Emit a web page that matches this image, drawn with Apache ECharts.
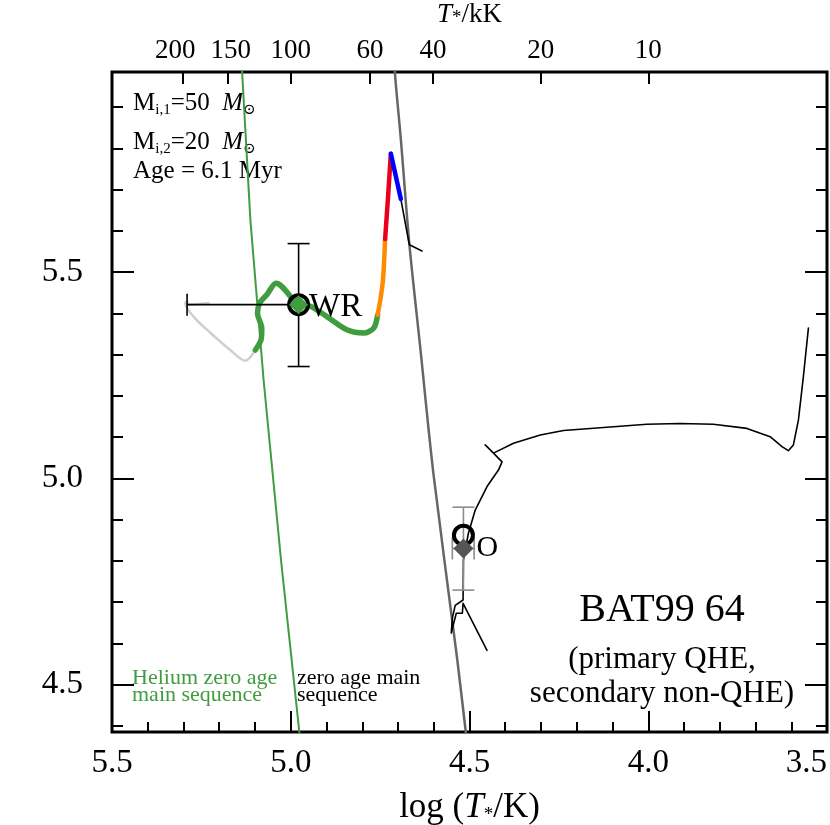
<!DOCTYPE html>
<html>
<head>
<meta charset="utf-8">
<script src="https://cdn.jsdelivr.net/npm/echarts@6/dist/echarts.min.js"></script>
<style>
  html, body { margin: 0; padding: 0; background: #fff; }
  #main { width: 830px; height: 825px; }
</style>
</head>
<body>
<div id="main"></div>
<script>
// ---- data (log T [K], log L [Lsun]) ----
var xTicks = [3.5, 4.0, 4.5, 5.0, 5.5];
var yMajorTicks = [4.5, 5.0, 5.5];
var yMinorTicks = [4.4, 4.5, 4.6, 4.7, 4.8, 4.9, 5.0, 5.1, 5.2, 5.3, 5.4, 5.5, 5.6, 5.7, 5.8, 5.9];
var topTicksKK = [200, 150, 100, 60, 40, 20, 10];

// helium zero age main sequence
var heZams = [[5.140, 6.05], [5.136, 5.985], [5.113, 5.627], [5.076, 5.239], [5.027, 4.80], [4.976, 4.385], [4.972, 4.35]];
// hydrogen zero age main sequence
var zams = [[4.712, 6.05], [4.709, 5.986], [4.692, 5.821], [4.668, 5.566], [4.638, 5.319], [4.601, 5.012], [4.534, 4.559], [4.510, 4.382], [4.505, 4.35]];

// primary track, split by phase colour
var primMS = [[4.633, 5.551], [4.668, 5.566], [4.670, 5.574], [4.692, 5.677]];
var primBlue = [[4.692, 5.677], [4.720, 5.787]];
var primRed = [[4.720, 5.787], [4.728, 5.680], [4.736, 5.580]];
var primOrange = [[4.736, 5.580], [4.742, 5.481], [4.749, 5.435], [4.757, 5.396]];
var primGreen = [[4.757, 5.396], [4.768, 5.364], [4.796, 5.352], [4.843, 5.360], [4.899, 5.392], [4.945, 5.417],
  [4.978, 5.421], [5.041, 5.473], [5.067, 5.445], [5.087, 5.425], [5.093, 5.400], [5.081, 5.364], [5.083, 5.336], [5.099, 5.311]];
var primGrey = [[5.099, 5.311], [5.127, 5.285], [5.169, 5.311], [5.225, 5.353], [5.272, 5.392], [5.295, 5.425],
  [5.290, 5.429], [5.287, 5.421], [5.230, 5.425]];

// secondary track
var secTrack = [[4.451, 4.583], [4.518, 4.697], [4.520, 4.673], [4.537, 4.673], [4.551, 4.625], [4.548, 4.661],
  [4.540, 4.692], [4.518, 4.705], [4.517, 4.802], [4.503, 4.867], [4.484, 4.923], [4.451, 4.980], [4.419, 5.020],
  [4.409, 5.040], [4.433, 5.061], [4.456, 5.081], [4.433, 5.061], [4.377, 5.085], [4.302, 5.105], [4.237, 5.116],
  [4.097, 5.125], [4.004, 5.131], [3.911, 5.133], [3.818, 5.131], [3.724, 5.121], [3.659, 5.101], [3.626, 5.077],
  [3.608, 5.067], [3.594, 5.081], [3.580, 5.141], [3.566, 5.247], [3.552, 5.364]];

// observed positions and model positions
var wrObs = [4.978, 5.421];
var wrModel = [4.978, 5.421];
var oObs = [4.517, 4.862];
var oModel = [4.517, 4.830];
// error bars: x, y, xLow, xHigh, yLow, yHigh
var errWR = [4.978, 5.421, 5.290, 4.978, 5.271, 5.569];
var errO = [4.517, 4.830, 4.548, 4.487, 4.729, 4.930];

var font = '"Liberation Serif", "DejaVu Serif", serif';
var green = '#3f9d3f';

var chart = echarts.init(document.getElementById('main'));

function track(data, color, width, z, smooth) {
  return {
    type: 'line', data: data, symbol: 'none', showSymbol: false, silent: true, smooth: smooth || false,
    lineStyle: { color: color, width: width, cap: 'round', join: 'round' }, z: z
  };
}

function errBars(color, width) {
  return function (params, api) {
    var x = api.value(0), y = api.value(1);
    var c = api.coord([x, y]);
    var l = api.coord([api.value(2), y]);
    var r = api.coord([api.value(3), y]);
    var lo = api.coord([x, api.value(4)]);
    var hi = api.coord([x, api.value(5)]);
    var cap = 11;
    var st = { stroke: color, lineWidth: width };
    var kids = [
      { type: 'line', shape: { x1: l[0], y1: c[1], x2: r[0], y2: c[1] }, style: st },
      { type: 'line', shape: { x1: c[0], y1: lo[1], x2: c[0], y2: hi[1] }, style: st },
      { type: 'line', shape: { x1: c[0] - cap, y1: lo[1], x2: c[0] + cap, y2: lo[1] }, style: st },
      { type: 'line', shape: { x1: c[0] - cap, y1: hi[1], x2: c[0] + cap, y2: hi[1] }, style: st }
    ];
    if (Math.abs(l[0] - c[0]) > 1) kids.push({ type: 'line', shape: { x1: l[0], y1: c[1] - cap, x2: l[0], y2: c[1] + cap }, style: st });
    if (Math.abs(r[0] - c[0]) > 1) kids.push({ type: 'line', shape: { x1: r[0], y1: c[1] - cap, x2: r[0], y2: c[1] + cap }, style: st });
    return { type: 'group', children: kids };
  };
}

var sub = { fontSize: 15, lineHeight: 15, verticalAlign: 'bottom', fontFamily: font };
var richInfo = { s: sub, m: { fontSize: 25, fontStyle: 'italic', fontFamily: font } };
var richAxis = {
  i: { fontStyle: 'italic', fontFamily: font },
  s: { fontSize: 19, lineHeight: 19, verticalAlign: 'bottom', fontFamily: font }
};

function infoText(text, y) {
  return {
    type: 'text', x: 133, y: y, silent: true,
    style: { text: text, fontSize: 25, lineHeight: 30, fontFamily: font, fill: '#000', align: 'left', verticalAlign: 'middle', rich: richInfo }
  };
}
function plainText(text, x, y, size, align, color, lh) {
  return {
    type: 'text', x: x, y: y, silent: true,
    style: { text: text, fontSize: size, lineHeight: lh || size, fontFamily: font, fill: color, align: align, verticalAlign: 'middle' }
  };
}

var tickLine = { color: '#000', width: 2 };
var yMinorAxis = function (pos) {
  return {
    type: 'value', position: pos, min: 4.385, max: 5.985,
    axisLine: { show: false }, splitLine: { show: false },
    axisLabel: { show: false },
    axisTick: { show: true, inside: true, length: 11, customValues: yMinorTicks, lineStyle: tickLine }
  };
};
var yMajorAxis = function (pos, labels) {
  return {
    type: 'value', position: pos, min: 4.385, max: 5.985,
    axisLine: { show: false }, splitLine: { show: false },
    axisLabel: {
      show: labels, customValues: yMajorTicks, margin: 29, fontSize: 33, fontFamily: font, color: '#000',
      formatter: function (v) { return v.toFixed(1); }
    },
    axisTick: { show: true, inside: true, length: 22, customValues: yMajorTicks, lineStyle: tickLine }
  };
};

var topVals = topTicksKK.map(function (k) { return Math.log10(k * 1000); });

chart.setOption({
  animation: false,
  backgroundColor: '#fff',
  grid: {
    left: 112, right: 3, top: 72, bottom: 93,
    show: true, borderColor: '#000', borderWidth: 3, backgroundColor: 'transparent',
    outerBoundsMode: 'none'
  },
  xAxis: [
    {
      type: 'value', position: 'bottom', min: 3.5, max: 5.5, interval: 0.5, inverse: true,
      axisLine: { show: false, onZero: false }, splitLine: { show: false },
      axisTick: { show: true, inside: true, length: 21, lineStyle: tickLine },
      minorTick: { show: true, splitNumber: 5, length: 10, lineStyle: tickLine },
      axisLabel: {
        margin: 15, fontSize: 33, fontFamily: font, color: '#000', alignMinLabel: 'right',
        formatter: function (v) { return v.toFixed(1); }
      },
      name: 'log ({i|T}{s|*}/K)', nameLocation: 'middle', nameGap: 58,
      nameTextStyle: { fontSize: 35, fontFamily: font, color: '#000', rich: richAxis }
    },
    {
      type: 'value', position: 'top', min: 3.5, max: 5.5, inverse: true,
      axisLine: { show: false, onZero: false }, splitLine: { show: false },
      axisTick: { show: true, inside: true, length: 12, customValues: topVals, lineStyle: tickLine },
      axisLabel: {
        customValues: topVals, margin: 8, fontSize: 27, fontFamily: font, color: '#000',
        formatter: function (v) {
          var k = Math.round(Math.pow(10, v) / 1000);
          if (k === 200) return '{l|200}';
          if (k === 150) return '{r|150}';
          return String(k);
        },
        rich: {
          l: { fontSize: 27, fontFamily: font, color: '#000', padding: [0, 16, 0, 0] },
          r: { fontSize: 27, fontFamily: font, color: '#000', padding: [0, 0, 0, 6] }
        }
      },
      name: '{i|T}{s|*}/kK', nameLocation: 'middle', nameGap: 44,
      nameTextStyle: { fontSize: 27, fontFamily: font, color: '#000', rich: richAxis }
    }
  ],
  yAxis: [yMajorAxis('left', true), yMinorAxis('left'), yMajorAxis('right', false), yMinorAxis('right')],
  series: [
    track(heZams, green, 2, 2),
    track(zams, '#666666', 2.5, 2, 0.3),
    track(secTrack, '#000', 1.6, 3),
    track(primMS, '#000', 1.6, 3),
    track(primGrey, '#cfcfcf', 2.5, 3, 0.3),
    track(primGreen, green, 5.5, 4, 0.3),
    track(primOrange, '#ff8c00', 4.5, 4, 0.3),
    track(primRed, '#e8001c', 4.5, 4),
    track(primBlue, '#0000ff', 4.5, 4),
    {
      type: 'custom', data: [errWR], renderItem: errBars('#000', 1.6), silent: true, z: 5,
      encode: { x: 0, y: 1 }
    },
    {
      type: 'custom', data: [errO], renderItem: errBars('#8c8c8c', 1.6), silent: true, z: 5,
      encode: { x: 0, y: 1 }
    },
    {
      type: 'scatter', data: [wrObs, oObs], symbol: 'circle', symbolSize: 19, silent: true, z: 6,
      itemStyle: { color: 'rgba(255,255,255,0)', borderColor: '#000', borderWidth: 4, opacity: 1 }
    },
    {
      type: 'scatter', data: [wrModel], symbol: 'diamond', symbolSize: 19, silent: true, z: 7,
      itemStyle: { color: green, opacity: 1 },
      label: {
        show: true, formatter: 'WR', position: 'right', distance: 1, offset: [0, 3],
        fontSize: 33, fontFamily: font, color: '#000'
      }
    },
    {
      type: 'scatter', data: [oModel], symbol: 'diamond', symbolSize: 20, silent: true, z: 7,
      itemStyle: { color: '#555555', opacity: 1 },
      label: {
        show: true, formatter: 'O', position: 'right', distance: 3, offset: [0, 0],
        fontSize: 30, fontFamily: font, color: '#000'
      }
    }
  ],
  graphic: [
    infoText('M{s|i,1}=50  {m|M}{s|⊙}', 103),
    infoText('M{s|i,2}=20  {m|M}{s|⊙}', 142),
    infoText('Age = 6.1 Myr', 171),
    plainText('BAT99 64', 662, 610, 40, 'center', '#000'),
    plainText('(primary QHE,', 662, 660, 31, 'center', '#000'),
    plainText('secondary non-QHE)', 662, 694, 31, 'center', '#000'),
    plainText('Helium zero age\nmain sequence', 132, 687, 22, 'left', green, 17),
    plainText('zero age main\nsequence', 297, 687, 22, 'left', '#000', 17)
  ]
});
</script>
</body>
</html>
